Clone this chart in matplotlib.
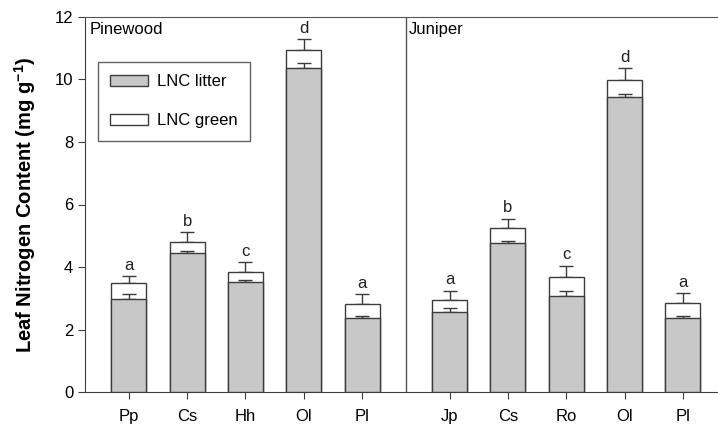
import numpy as np
import matplotlib.pyplot as plt
from matplotlib.patches import Patch

plt.rcParams['font.family'] = ['Liberation Sans', 'DejaVu Sans']

# species per site
pine_species = ['Pp', 'Cs', 'Hh', 'Ol', 'Pl']
juni_species = ['Jp', 'Cs', 'Ro', 'Ol', 'Pl']

# leaf nitrogen content (mg g-1), mean and upper SE
pine_green = [3.48, 4.81, 3.85, 10.94, 2.81]
pine_green_se = [0.24, 0.32, 0.31, 0.34, 0.34]
pine_litter = [2.99, 4.46, 3.51, 10.35, 2.36]
pine_litter_se = [0.15, 0.06, 0.07, 0.16, 0.09]

juni_green = [2.94, 5.24, 3.67, 9.98, 2.84]
juni_green_se = [0.31, 0.31, 0.38, 0.39, 0.32]
juni_litter = [2.57, 4.78, 3.07, 9.44, 2.36]
juni_litter_se = [0.12, 0.06, 0.16, 0.08, 0.09]

pine_letters = ['a', 'b', 'c', 'd', 'a']
juni_letters = ['a', 'b', 'c', 'd', 'a']

labels = pine_species + juni_species
green = np.array(pine_green + juni_green)
green_se = np.array(pine_green_se + juni_green_se)
litter = np.array(pine_litter + juni_litter)
litter_se = np.array(pine_litter_se + juni_litter_se)
letters = pine_letters + juni_letters

x = np.concatenate([np.arange(5), np.arange(5) + 5.5])
w = 0.6
edge = '#3c3c3c'
gray = '#c8c8c8'
fs = 12

fig = plt.figure(figsize=(7.18, 4.29), dpi=100)
ax = fig.add_axes([85 / 718, 1 - 392.3 / 429, 633 / 718, 375.6 / 429])

# green leaves behind, litter in front
ax.bar(x, green, w, color='white', edgecolor=edge, linewidth=1, zorder=2)
ax.errorbar(x, green, yerr=[np.zeros_like(green_se), green_se], fmt='none',
            ecolor=edge, elinewidth=1, capsize=5, capthick=1, zorder=1)
ax.bar(x, litter, w, color=gray, edgecolor=edge, linewidth=1, zorder=3)
ax.errorbar(x, litter, yerr=[np.zeros_like(litter_se), litter_se], fmt='none',
            ecolor=edge, elinewidth=1, capsize=5, capthick=1, zorder=2.5)

for xi, g, s, t in zip(x, green, green_se, letters):
    ax.text(xi, g + s + 0.1, t, ha='center', va='bottom', fontsize=fs, color='#222222')

ax.set_xlim(-0.75, 10.1)
ax.set_ylim(0, 12)
ax.set_xticks(x)
ax.set_xticklabels(labels, fontsize=fs)
ax.set_yticks(range(0, 13, 2))
ax.tick_params(axis='y', labelsize=fs, direction='out', length=5, color=edge)
ax.tick_params(axis='x', direction='out', length=5, color=edge, pad=7)
ax.set_ylabel('Leaf Nitrogen Content (mg g$\\mathregular{^{-1}}$)', fontsize=14.5,
              fontweight='bold', labelpad=12)

for side in ['left', 'bottom']:
    ax.spines[side].set_color(edge)
ax.spines['top'].set_color('#555555')
ax.spines['right'].set_visible(False)
ax.axvline(4.75, color='#555555', linewidth=1)

ax.text(0.008, 0.965, 'Pinewood', transform=ax.transAxes, fontsize=fs, va='center')
ax.text((4.75 + 0.75) / 10.85 + 0.004, 0.965, 'Juniper', transform=ax.transAxes,
        fontsize=fs, va='center')

handles = [Patch(facecolor=gray, edgecolor=edge, label='LNC litter'),
           Patch(facecolor='white', edgecolor=edge, label='LNC green')]
leg = ax.legend(handles=handles, loc='upper left', bbox_to_anchor=(0.0205, 0.88),
                fontsize=fs, frameon=True, fancybox=False, edgecolor=edge,
                handlelength=2.28, handleheight=0.64, labelspacing=1.45,
                borderpad=0.75, handletextpad=0.52, borderaxespad=0)
leg.get_frame().set_linewidth(1)

fig.savefig('out.png', dpi=100)
